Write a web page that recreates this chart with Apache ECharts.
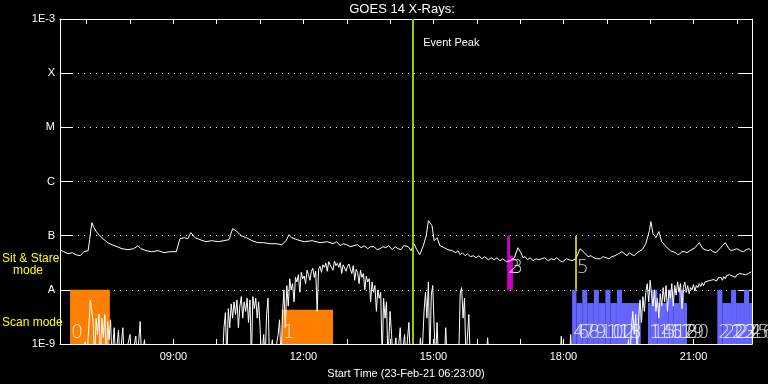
<!DOCTYPE html>
<html><head><meta charset="utf-8">
<script src="https://cdn.jsdelivr.net/npm/echarts@6/dist/echarts.min.js"></script>
<style>html,body{margin:0;padding:0;background:#000}#c{width:768px;height:384px}</style>
</head><body><div id="c"></div>
<script>
// ---------------- data ----------------
const xStart = '06:23';
const xEnd = '22:21';
const eventPeak = '14:32';
const yTickLabels = ['1E-9', 'A', 'B', 'C', 'M', 'X', '1E-3'];
const xTickLabels = ['09:00', '12:00', '15:00', '18:00', '21:00'];

// GOES long channel (1-8 A), W/m^2
const longTime = [
'06:23','06:28','06:34','06:40','06:45','06:51','06:56','07:02','07:04','07:07','07:10','07:14','07:18','07:24','07:29','07:35','07:42','07:49','07:57','08:05','08:11','08:15','08:22','08:30','08:39','08:47','08:55','09:04',
'09:09','09:15','09:20','09:24','09:30','09:37','09:45','09:53','10:02','10:10','10:17','10:22','10:28','10:34','10:41','10:49','10:57','11:05','11:14','11:22','11:30','11:36','11:40','11:44','11:51','12:01','12:12','12:23','12:33',
'12:41','12:46','12:51','12:55','13:00','13:05','13:10','13:15','13:20','13:24','13:29','13:33','13:38','13:42','13:46','13:50','13:54','13:58','14:03','14:07','14:11','14:15','14:19','14:25','14:29','14:33','14:37','14:41','14:46',
'14:50','14:53','14:55','14:58','15:01','15:05','15:09','15:15','15:20','15:26','15:31','15:34','15:37','15:40','15:44','15:47','15:51','15:55','15:59','16:03','16:07','16:11','16:16','16:20','16:24','16:28','16:32','16:36','16:41','16:46','16:52',
'16:57','17:01','17:04','17:07','17:10','17:14','17:18','17:22','17:26','17:30','17:34','17:39','17:43','17:47','17:51','17:55','17:59','18:04','18:08','18:12','18:17','18:23','18:29','18:34','18:38','18:42','18:46','18:51','18:55','18:59','19:03','19:07','19:11','19:16','19:21','19:28','19:31','19:35','19:38','19:42','19:49',
'19:54','19:59','20:01','20:04','20:08','20:12','20:16','20:22','20:28','20:35','20:38','20:41','20:44','20:48','20:51','20:55','21:02','21:08','21:13','21:20','21:24','21:27','21:31','21:34','21:40','21:44','21:49','21:52','21:56','22:00','22:05','22:09','22:13','22:17','22:20'];
const longFlux = [
5.51e-8,5.06e-8,4.64e-8,4.85e-8,4.45e-8,4.26e-8,5.06e-8,5.28e-8,8.43e-8,1.74e-7,1.41e-7,1.14e-7,1.0e-7,8.43e-8,7.42e-8,6.81e-8,6.26e-8,5.74e-8,5.51e-8,5.74e-8,6.53e-8,5.74e-8,5.28e-8,5.06e-8,5.28e-8,4.85e-8,5.06e-8,5.06e-8,
8.80e-8,9.18e-8,8.80e-8,1.14e-7,9.18e-8,8.43e-8,7.74e-8,8.08e-8,7.74e-8,8.08e-8,8.43e-8,1.35e-7,1.19e-7,1.0e-7,9.18e-8,8.08e-8,7.42e-8,7.42e-8,7.11e-8,7.11e-8,6.81e-8,8.08e-8,1.04e-7,9.18e-8,8.43e-8,7.74e-8,8.08e-8,7.42e-8,7.74e-8,
7.11e-8,7.74e-8,6.53e-8,7.11e-8,6.81e-8,6.26e-8,6.53e-8,6.81e-8,5.99e-8,6.53e-8,5.74e-8,6.26e-8,6.26e-8,5.51e-8,5.74e-8,6.26e-8,5.99e-8,6.53e-8,5.51e-8,6.26e-8,5.74e-8,5.51e-8,6.53e-8,6.26e-8,5.28e-8,7.11e-8,5.51e-8,4.45e-8,6.53e-8,
1.0e-7,1.89e-7,1.82e-7,1.53e-7,8.08e-8,9.18e-8,6.53e-8,5.99e-8,5.51e-8,5.28e-8,4.85e-8,5.28e-8,4.45e-8,4.85e-8,4.26e-8,4.64e-8,4.09e-8,4.26e-8,3.92e-8,4.26e-8,3.75e-8,4.09e-8,3.59e-8,3.92e-8,3.59e-8,3.92e-8,3.44e-8,3.75e-8,3.30e-8,3.44e-8,3.92e-8,
5.99e-8,4.85e-8,3.92e-8,4.09e-8,3.59e-8,3.92e-8,3.44e-8,3.75e-8,3.59e-8,3.75e-8,3.92e-8,3.44e-8,3.75e-8,3.59e-8,3.92e-8,3.44e-8,3.30e-8,3.75e-8,3.59e-8,3.44e-8,3.75e-8,5.74e-8,4.85e-8,4.09e-8,4.26e-8,3.92e-8,3.75e-8,3.75e-8,4.09e-8,3.92e-8,3.75e-8,4.09e-8,4.26e-8,4.64e-8,5.06e-8,4.26e-8,4.85e-8,4.45e-8,4.26e-8,4.85e-8,5.51e-8,
7.11e-8,1.24e-7,1.82e-7,1.09e-7,9.18e-8,1.19e-7,7.74e-8,6.26e-8,5.28e-8,4.85e-8,4.45e-8,4.64e-8,5.06e-8,5.06e-8,4.85e-8,5.28e-8,5.99e-8,7.42e-8,5.74e-8,5.28e-8,5.51e-8,5.06e-8,4.85e-8,5.28e-8,6.53e-8,7.42e-8,5.74e-8,5.28e-8,5.51e-8,5.74e-8,5.28e-8,5.06e-8,5.51e-8,5.74e-8,5.28e-8];

// GOES short channel (0.5-4 A), W/m^2 (values below 1E-9 fall off the plot)
const shortTime = [
'06:23','06:40','06:50','06:58','07:00','07:03','07:05','07:07','07:09','07:11','07:13','07:15','07:17','07:19','07:21','07:23','07:25','07:27','07:29','07:31','07:33','07:35','07:38','07:40','07:44','07:46','07:50','07:52','08:00','08:02','08:08','08:10','08:14','08:16','08:20','08:22',
'10:08','10:10','10:12','10:14','10:16','10:18','10:20','10:22','10:24','10:26','10:28','10:30','10:32','10:34','10:36','10:38','10:40','10:42','10:44','10:46','10:48','10:50','10:52','10:54','10:56','10:58','11:00','11:02','11:05','11:07','11:09','11:11','11:13','11:17','11:19','11:25','11:27','11:29',
'11:31','11:33','11:35','11:37','11:39','11:41','11:43','11:45','11:47','11:49','11:51','11:53','11:55','11:57','11:59','12:01','12:03','12:05','12:07','12:09','12:11','12:13','12:15','12:17','12:19','12:21','12:23','12:25','12:27','12:29',
'12:31','12:33','12:35','12:37','12:39','12:41','12:43','12:45','12:47','12:49','12:51','12:53','12:55','12:57','12:59','13:01','13:03','13:05','13:07','13:09','13:11','13:13','13:15','13:17','13:19','13:21','13:23','13:25','13:27','13:29',
'13:31','13:33','13:35','13:37','13:39','13:41','13:43','13:45','13:47','13:49','13:51','13:53','13:55','13:57','14:00','14:02','14:04','14:08','14:10','14:14','14:16','14:20','14:22','14:24','14:26','14:28',
'14:40','14:42','14:44','14:47','14:49','14:51','14:53','14:55','14:57','14:59','15:01','15:03','15:05','15:07','15:15','15:17','15:19','15:35','15:37','15:39','15:41','15:43','15:45','15:49','15:51','16:13','16:15','16:17','17:55','17:57','17:59','18:08','18:10','18:12',
'19:28','19:30','19:32','19:34','19:36','19:38','19:40','19:42','19:44','19:46','19:48','19:50','19:52','19:54','19:56','19:58','20:00','20:02','20:04','20:06','20:08','20:10','20:12','20:14','20:16','20:18','20:20','20:22','20:24','20:26','20:28','20:30','20:32','20:34','20:36','20:38','20:40','20:42','20:44','20:46','20:48','20:50',
'20:52','20:54','20:56','20:58','21:00','21:02','21:04','21:06','21:08','21:10','21:12','21:14','21:16','21:18','21:20','21:22','21:24','21:26','21:28','21:30','21:32','21:34','21:36','21:38','21:40','21:42','21:44','21:46','21:48','21:50','21:52','21:54','21:56','21:58','22:00','22:02','22:04','22:06','22:08','22:10','22:12','22:14','22:16','22:18','22:20'];
const shortFlux = [
5e-10,5e-10,5e-10,1.1e-9,5e-10,2.2e-9,6.5e-9,6.8e-9,2.5e-9,5e-10,3.0e-9,1.5e-9,3.6e-9,5e-10,3.0e-9,1.3e-9,3.5e-9,5e-10,2.6e-9,1.2e-9,2.8e-9,5e-10,2.0e-9,5e-10,1.8e-9,5e-10,2.0e-9,5e-10,1.5e-9,5e-10,1.4e-9,5e-10,2.6e-9,5e-10,1.2e-9,5e-10,
5e-10,2.0e-9,3.8e-9,5e-10,4.5e-9,2.0e-9,5.5e-9,3.0e-9,6.0e-9,3.5e-9,6.5e-9,2.0e-9,5.0e-9,7.5e-9,3.0e-9,6.0e-9,4.0e-9,7.0e-9,2.5e-9,6.5e-9,5e-10,7.5e-9,4.5e-9,7.0e-9,3.0e-9,6.0e-9,2.0e-9,5e-10,1.5e-9,5e-10,3.5e-9,7.0e-9,5e-10,1.2e-9,5e-10,1.5e-9,2.8e-9,5e-10,
3.5e-9,1.0e-8,2.0e-9,1.2e-8,5.0e-9,1.6e-8,1.0e-8,1.3e-8,6.0e-9,1.7e-8,1.4e-8,1.9e-8,9.0e-9,2.1e-8,1.6e-8,1.8e-8,1.3e-8,2.3e-8,1.9e-8,1.5e-8,2.2e-8,2.5e-8,1.7e-8,2.2e-8,4.0e-9,2.4e-8,2.7e-8,2.1e-8,2.9e-8,2.6e-8,
3.1e-8,2.2e-8,3.3e-8,2.9e-8,3.0e-8,2.3e-8,3.4e-8,2.8e-8,3.1e-8,2.6e-8,3.2e-8,2.0e-8,2.9e-8,3.0e-8,2.2e-8,2.7e-8,3.0e-8,2.4e-8,2.0e-8,2.8e-8,1.5e-8,2.4e-8,2.1e-8,1.3e-8,2.3e-8,1.7e-8,2.0e-8,1.0e-8,1.8e-8,1.4e-8,
1.6e-8,6.0e-9,1.4e-8,9.0e-9,1.2e-8,4.0e-9,1.0e-8,7.0e-9,9.0e-9,5e-10,7.0e-9,3.0e-9,6.0e-9,5e-10,4.0e-9,1.5e-9,5e-10,1.3e-9,5e-10,2.0e-9,5e-10,1.5e-9,5e-10,1.2e-9,2.5e-9,5e-10,
5e-10,1.3e-9,5e-10,4.0e-9,9.0e-9,3.0e-9,1.4e-8,5e-10,8.0e-9,1.2e-8,2.0e-9,5e-10,2.5e-9,5e-10,5e-10,2.0e-9,5e-10,5e-10,8.5e-9,1.1e-8,3.0e-9,7.0e-9,5e-10,3.5e-9,5e-10,5e-10,1.3e-9,5e-10,5e-10,1.4e-9,5e-10,5e-10,1.5e-9,5e-10,
5e-10,1.2e-9,5e-10,2.0e-9,4.0e-9,1.5e-9,3.5e-9,5e-10,3.0e-9,6.5e-9,2.5e-9,7.5e-9,4.0e-9,9.0e-9,1.3e-8,6.0e-9,1.5e-8,8.0e-9,5.0e-9,1.0e-8,4.0e-9,7.0e-9,3.0e-9,8.5e-9,5.0e-9,1.1e-8,6.0e-9,1.2e-8,4.0e-9,1.0e-8,7.0e-9,1.3e-8,5.0e-9,1.2e-8,8.0e-9,1.4e-8,9.0e-9,1.3e-8,4.5e-9,1.1e-8,1.4e-8,9.0e-9,
1.2e-8,8.5e-9,1.1e-8,1.0e-8,1.25e-8,9.5e-9,1.2e-8,1.1e-8,1.3e-8,1.15e-8,1.35e-8,1.2e-8,1.4e-8,1.3e-8,1.45e-8,1.35e-8,1.5e-8,1.4e-8,1.55e-8,1.6e-8,1.45e-8,1.65e-8,1.55e-8,1.7e-8,1.5e-8,1.75e-8,1.6e-8,1.85e-8,1.7e-8,1.9e-8,1.75e-8,1.8e-8,1.95e-8,1.7e-8,1.9e-8,1.8e-8,2.0e-8,1.85e-8,1.95e-8,2.05e-8,1.9e-8,2.05e-8,2.0e-8,2.1e-8,2.15e-8];

// observation intervals (label, start, end, lower/upper flux edge, kind)
const scanLabel  = ['0','1','2','3','4','5','6','7','8','9','10','11','12','13','','14','15','16','17','18','19','20','21','22','23','24','25','26'];
const scanStart  = ['06:37','11:30','16:42','16:46','18:12','18:17','18:18','18:26','18:33','18:42','18:49','18:58','19:05','19:14','19:21','19:57','20:01','20:10','20:25','20:32','20:40','20:47','21:33','21:40','21:52','21:59','22:10','22:17'];
const scanEnd    = ['07:32','12:41','16:46','16:50','18:18','18:17','18:26','18:33','18:42','18:49','18:58','19:05','19:14','19:21','19:47','20:01','20:10','20:25','20:32','20:40','20:47','20:51','21:40','21:52','21:59','22:10','22:17','22:21'];
const scanBottom = [1e-9,1e-9,1e-8,1e-8,1e-9,1e-8,1e-9,1e-9,1e-9,1e-9,1e-9,1e-9,1e-9,1e-9,1e-9,1e-9,1e-9,1e-9,1e-9,1e-9,1e-9,1e-9,1e-9,1e-9,1e-9,1e-9,1e-9,1e-9];
const scanTop    = [1e-8,4.3e-9,1e-7,4.3e-8,1e-8,1e-7,5.7e-9,1e-8,5.7e-9,1e-8,5.7e-9,1e-8,5.7e-9,1e-8,5.7e-9,5.7e-9,1e-8,5.7e-9,1e-8,5.7e-9,1e-8,5.7e-9,1e-8,5.7e-9,1e-8,5.7e-9,1e-8,5.7e-9];
const scanKind   = ['cal','cal','sit','sit','scan','line','scan','scan','scan','scan','scan','scan','scan','scan','scan','scan','scan','scan','scan','scan','scan','scan','scan','scan','scan','scan','scan','scan'];

// ---------------- helpers / styles ----------------
function T(s) { const p = s.split(':').map(Number); return new Date(2021, 1, 23, p[0], p[1]).getTime(); }
const COLORS = { cal: '#ff8000', sit: '#cc00cc', scan: '#6666ff', line: '#ffff00' };
const FONT = 'Liberation Sans';

const areas = [], segs = [], labels = [];
scanStart.forEach((s, i) => {
  const k = scanKind[i];
  if (k === 'line') {
    segs.push([{ coord: [T(s), scanBottom[i]], lineStyle: { color: COLORS.line, width: 1.5, type: 'solid' } },
               { coord: [T(scanEnd[i]), scanTop[i]] }]);
  } else {
    areas.push([{ xAxis: T(s), yAxis: scanBottom[i], itemStyle: { color: COLORS[k] } },
                { xAxis: T(scanEnd[i]), yAxis: scanTop[i] }]);
  }
  if (scanLabel[i] !== '') labels.push({ value: [T(s), scanBottom[i]], name: scanLabel[i], band: scanBottom[i] > 5e-9 ? 'sit' : 'scan' });
});

const chart = echarts.init(document.getElementById('c'), null, { renderer: 'canvas' });
function xAxisDef(pos) {
  return {
    type: 'time', min: T(xStart), max: T(xEnd), position: pos,
    minInterval: 3600000, maxInterval: 3600000,
    axisLine: { show: true, onZero: false, lineStyle: { color: '#fff', width: 1 } },
    axisTick: { show: true, inside: true, length: 5, lineStyle: { color: '#fff', width: 1 } },
    splitLine: { show: false }
  };
}
function yAxisDef(pos) {
  return {
    type: 'log', logBase: 10, min: 1e-9, max: 1e-3, splitNumber: 6, position: pos,
    axisLine: { show: true, lineStyle: { color: '#fff', width: 1 } },
    axisTick: { show: true, inside: true, length: 13, lineStyle: { color: '#fff' } }
  };
}
chart.setOption({
  backgroundColor: '#000',
  animation: false,
  grid: { left: 60, right: 16, top: 19, bottom: 40, containLabel: false },
  xAxis: [
    Object.assign(xAxisDef('bottom'), {
      axisLabel: {
        color: '#fff', fontSize: 11, fontFamily: FONT, margin: 7, hideOverlap: false,
        formatter: v => { const d = new Date(v); const s = String(d.getHours()).padStart(2, '0') + ':' + String(d.getMinutes()).padStart(2, '0'); return xTickLabels.includes(s) ? s : ''; }
      },
      name: 'Start Time (23-Feb-21 06:23:00)', nameLocation: 'middle', nameGap: 24,
      nameTextStyle: { color: '#fff', fontSize: 11, fontFamily: FONT }
    }),
    Object.assign(xAxisDef('top'), { axisLabel: { show: false } })
  ],
  yAxis: [
    Object.assign(yAxisDef('left'), {
      axisLabel: { color: '#fff', fontSize: 11, fontFamily: FONT, margin: 5,
        formatter: v => yTickLabels[Math.round(Math.log10(v)) + 9] || '' },
      splitLine: { show: true, lineStyle: { color: '#fff', type: [1, 5], width: 1 } }
    }),
    Object.assign(yAxisDef('right'), { axisLabel: { show: false }, splitLine: { show: false } })
  ],
  series: [
    {
      type: 'line', data: [], z: 1, silent: true,
      markArea: { silent: true, data: areas, label: { show: false } },
      markLine: { silent: true, symbol: ['none', 'none'], label: { show: false },
        lineStyle: { color: COLORS.line, width: 1.5, type: 'solid', opacity: 1 }, data: segs }
    },
    {
      name: 'short', type: 'line', showSymbol: false, symbol: 'none', z: 3, clip: true,
      lineStyle: { color: '#fff', width: 1 }, data: shortTime.map((t, i) => [T(t), shortFlux[i]])
    },
    {
      name: 'long', type: 'line', showSymbol: false, symbol: 'none', z: 3, clip: true,
      lineStyle: { color: '#fff', width: 1 }, data: longTime.map((t, i) => [T(t), longFlux[i]])
    },
    {
      type: 'scatter', symbolSize: 0, z: 4, silent: true,
      data: labels.map(l => ({ value: l.value, name: l.name,
        label: { offset: [1, l.band === 'sit' ? -12 : -1] } })),
      label: { show: true, position: [0, 0], align: 'left', verticalAlign: 'bottom',
        formatter: p => p.name, color: '#fff', fontSize: 19, fontFamily: 'DejaVu Sans', fontWeight: 200 }
    },
    {
      type: 'line', data: [], z: 6, silent: true,
      markLine: { silent: true, symbol: ['none', 'none'], label: { show: false },
        lineStyle: { color: '#99cc00', width: 2, type: 'solid' }, data: [{ xAxis: T(eventPeak) }] }
    }
  ]
});

const ex = chart.convertToPixel({ xAxisIndex: 0 }, T(eventPeak));
chart.setOption({
  graphic: [
    { type: 'text', x: 402, y: 3, style: { text: 'GOES 14 X-Rays:', fill: '#fff', font: '13px ' + FONT, textAlign: 'center' } },
    { type: 'text', x: ex + 10, y: 37, style: { text: 'Event Peak', fill: '#fff', font: '11px ' + FONT } },
    { type: 'text', x: 2, y: 253, style: { text: 'Sit & Stare', fill: '#ffff00', font: '12px ' + FONT } },
    { type: 'text', x: 13, y: 265, style: { text: 'mode', fill: '#ffff00', font: '12px ' + FONT } },
    { type: 'text', x: 2, y: 317, style: { text: 'Scan mode', fill: '#ffff00', font: '12px ' + FONT } }
  ]
});
</script>
</body></html>
